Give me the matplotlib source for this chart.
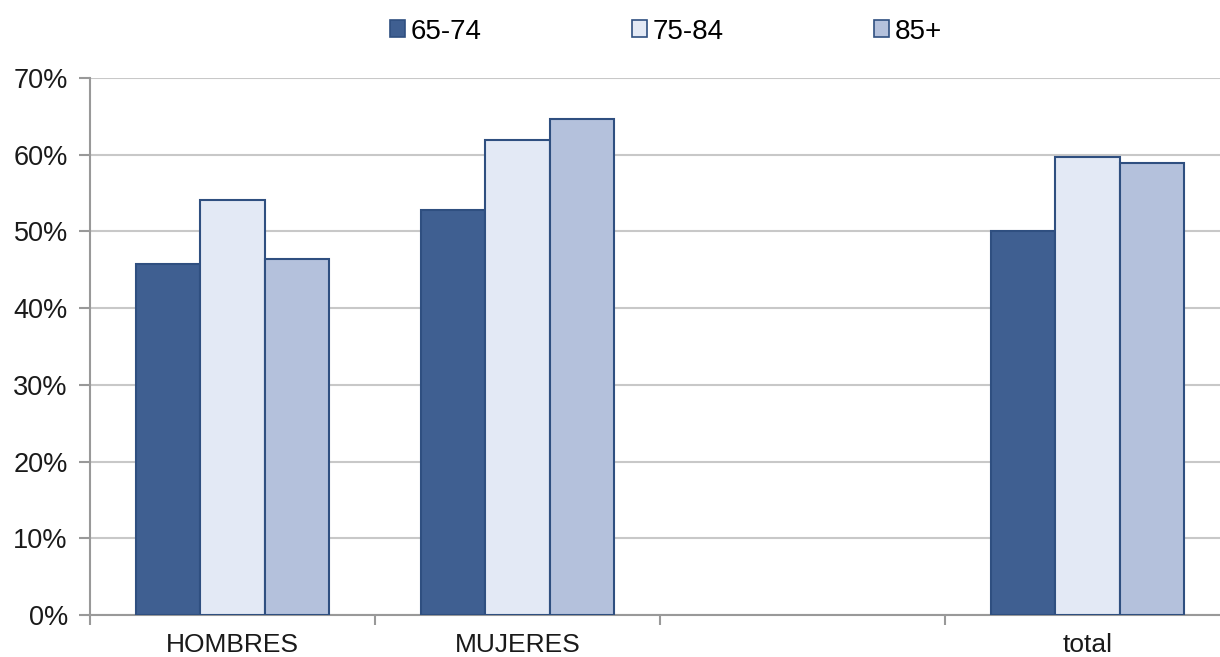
import numpy as np
import matplotlib.pyplot as plt
from matplotlib.patches import Patch

plt.rcParams['font.family'] = ['Liberation Sans', 'DejaVu Sans']

categories = ['HOMBRES', 'MUJERES', '', 'total']
series_names = ['65-74', '75-84', '85+']
v_6574 = [45.8, 52.8, np.nan, 50.0]
v_7584 = [54.1, 61.9, np.nan, 59.7]
v_85 = [46.4, 64.7, np.nan, 58.9]
yticks = [0, 10, 20, 30, 40, 50, 60, 70]

colors = ['#3F5F91', '#E3E9F5', '#B4C1DC']
edge = '#2F4F80'

fig = plt.figure(figsize=(12.2, 6.57), dpi=100)
ax = fig.add_axes([90/1220, 42/657, 1140/1220, 537/657])

x = np.arange(len(categories))
w = 0.2246
for j, vals in enumerate([v_6574, v_7584, v_85]):
    ax.bar(x + (j - 1) * w, vals, w, color=colors[j], edgecolor=edge,
           linewidth=1.5, zorder=3)

ax.set_xlim(-0.5, len(categories) - 0.5)
ax.set_ylim(0, 70)
ax.set_yticks(yticks)
ax.set_yticklabels([f'{t}%' for t in yticks], fontsize=19.5, color='#1a1a1a')
ax.yaxis.grid(True, color='#C8C8C8', linewidth=1.5, zorder=0)

ax.set_xticks(x)
ax.set_xticklabels(categories, fontsize=19, color='#1a1a1a')
ax.tick_params(axis='x', which='major', length=0, pad=13)
ax.set_xticks(np.arange(len(categories) + 1) - 0.5, minor=True)
ax.tick_params(axis='x', which='minor', length=7, width=1.5, color='#999999')
ax.tick_params(axis='y', length=8, width=1.5, color='#999999', pad=8)

for s in ['top', 'right']:
    ax.spines[s].set_visible(False)
for s in ['left', 'bottom']:
    ax.spines[s].set_color('#999999')
    ax.spines[s].set_linewidth(1.5)

handles = [Patch(facecolor=colors[j], edgecolor=edge, linewidth=1.2)
           for j in range(3)]
fig.legend(handles, series_names, loc='center', bbox_to_anchor=(0.546, 0.952),
           ncol=3, frameon=False, fontsize=20, handlelength=0.55,
           handleheight=0.55, handletextpad=0.2, columnspacing=5.4)

fig.savefig('out.png', dpi=100)
